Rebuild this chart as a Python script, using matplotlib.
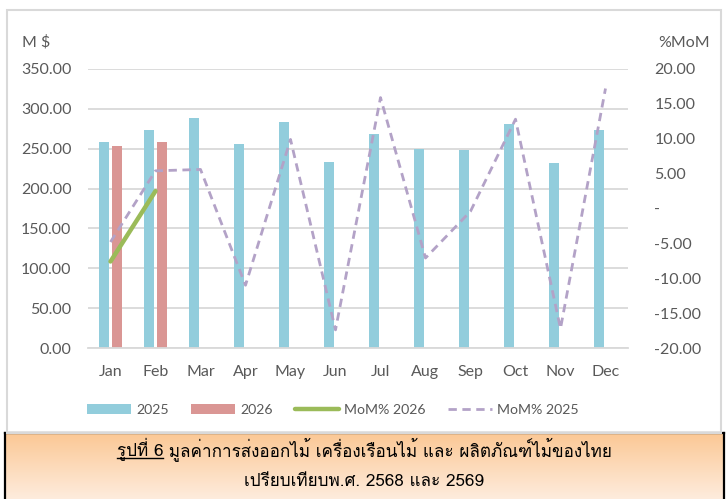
import matplotlib.pyplot as plt
import numpy as np
from matplotlib import font_manager
from matplotlib.ft2font import FT2Font
from matplotlib.patches import Rectangle

months = ['Jan', 'Feb', 'Mar', 'Apr', 'May', 'Jun', 'Jul', 'Aug', 'Sep', 'Oct', 'Nov', 'Dec']
exp_2025 = [259, 273, 288, 256, 283, 233, 269, 250, 249, 281, 232, 273]
exp_2026 = [253, 259]
mom_2025 = [-4.8, 5.4, 5.6, -11.0, 9.9, -17.4, 15.9, -7.1, -0.4, 12.8, -17.2, 17.2]
mom_2026 = [-7.6, 2.5]

left_ticks = [0, 50, 100, 150, 200, 250, 300, 350]
right_ticks = [-20, -15, -10, -5, 0, 5, 10, 15, 20]

title1 = 'รูปที่ 6'
title2 = ' มูลค่าการส่งออกไม้ เครื่องเรือนไม้ และ ผลิตภัณฑ์ไม้ของไทย'
title3 = 'เปรียบเทียบพ.ศ. 2568 และ 2569'


def thai_font():
    # first installed family that really has Thai glyphs
    for f in font_manager.fontManager.ttflist:
        try:
            if FT2Font(f.fname).get_char_index(ord('ก')):
                return f.name
        except Exception:
            pass
    return 'DejaVu Sans'


plt.rcParams['font.family'] = ['Lato', 'DejaVu Sans']
grey = '#595959'
tfont = thai_font()

fig = plt.figure(figsize=(7.26, 4.99), dpi=100)

# outer chart border
fig.patches.append(Rectangle((7 / 726, 1 - 433 / 499), 714 / 726, 423 / 499,
                             transform=fig.transFigure, fill=False,
                             edgecolor='#d9d9d9', lw=1.5))

ax = fig.add_axes([88 / 726, 151 / 499, 540 / 726, 279 / 499])
ax2 = ax.twinx()

x = np.arange(len(months))
w = 0.235
b1 = ax.bar(x - 0.148, exp_2025, w, color='#92cddc', label='2025', zorder=2)
b2 = ax.bar(x[:len(exp_2026)] + 0.148, exp_2026, w, color='#da9694', label='2026', zorder=2)

l1, = ax2.plot(x[:len(mom_2026)], mom_2026, color='#9bbb59', lw=3.2,
               solid_capstyle='round', label='MoM% 2026')
l2, = ax2.plot(x, mom_2025, color='#b3a2c7', lw=2, linestyle=(0, (3, 2)),
               label='MoM% 2025')

ax.set_xlim(-0.5, 11.5)
ax.set_ylim(0, 350)
ax2.set_ylim(-20, 20)
ax.set_xticks(x)
ax.set_xticklabels(months)
ax.set_yticks(left_ticks)
ax.set_yticklabels(['%.2f' % v for v in left_ticks])
ax2.set_yticks(right_ticks)
ax2.set_yticklabels(['-' if v == 0 else '%.2f' % v for v in right_ticks])

ax.grid(axis='y', color='#d9d9d9', lw=1.3, zorder=0)
ax.set_axisbelow(True)
for a in (ax, ax2):
    for s in a.spines.values():
        s.set_visible(False)
ax.spines['bottom'].set_visible(True)
ax.spines['bottom'].set_color('#d9d9d9')
ax.spines['bottom'].set_linewidth(1.3)

ax.tick_params(axis='y', length=0, pad=12, labelsize=11.5, labelcolor=grey)
ax.tick_params(axis='x', length=0, pad=12.5, labelsize=11.5, labelcolor=grey)
ax2.tick_params(axis='y', length=0, pad=19, labelsize=11.5, labelcolor=grey)
for t in ax2.get_yticklabels():
    t.set_horizontalalignment('left')

fig.text(22 / 726, 1 - 42 / 499, 'M $', color=grey, fontsize=11.5, va='center')
fig.text(658 / 726, 1 - 43 / 499, '%MoM', color=grey, fontsize=11.5, va='center')

ax.legend([b1, b2, l1, l2], ['2025', '2026', 'MoM% 2026', 'MoM% 2025'],
          loc='center', bbox_to_anchor=(333 / 726, 1 - 410 / 499),
          bbox_transform=fig.transFigure, ncol=4, frameon=False,
          fontsize=10.2, labelcolor=grey, handlelength=3.1,
          handletextpad=0.35, columnspacing=1.6)

# caption box with orange gradient
cap = fig.add_axes([5 / 726, 0, 719 / 726, 66 / 499])
grad = np.linspace(0, 1, 100).reshape(-1, 1)
top = np.array([0.984, 0.784, 0.584])
bot = np.array([0.996, 0.925, 0.866])
img = top + (bot - top) * grad[:, :, None]
cap.imshow(img, aspect='auto', extent=(0, 1, 0, 1), origin='upper')
cap.set_xlim(0, 1)
cap.set_ylim(0, 1)
cap.set_xticks([])
cap.set_yticks([])
for s in cap.spines.values():
    s.set_color('black')
    s.set_linewidth(1.6)
cap.spines['bottom'].set_visible(False)

tfam = [tfont, 'DejaVu Sans']
t1 = cap.text(0, 1 - 23 / 66, title1, fontsize=12.3, family=tfam,
              ha='left', va='baseline')
t2 = cap.text(0, 1 - 23 / 66, title2, fontsize=12.3, family=tfam,
              ha='left', va='baseline')
cap.text(0.5, 1 - 53 / 66, title3, fontsize=12.3, family=tfam,
         ha='center', va='baseline')

# place the two parts of line 1 centred together, underline the first
r = fig.canvas.get_renderer()
bb1 = t1.get_window_extent(r)
bb2 = t2.get_window_extent(r)
cw = cap.get_window_extent(r).width
start = 0.5 - (bb1.width + bb2.width) / 2 / cw
t1.set_x(start)
t2.set_x(start + bb1.width / cw)
cap.plot([start, start + bb1.width / cw], [1 - 25 / 66] * 2, color='black', lw=1)

fig.savefig('out.png', dpi=100)
